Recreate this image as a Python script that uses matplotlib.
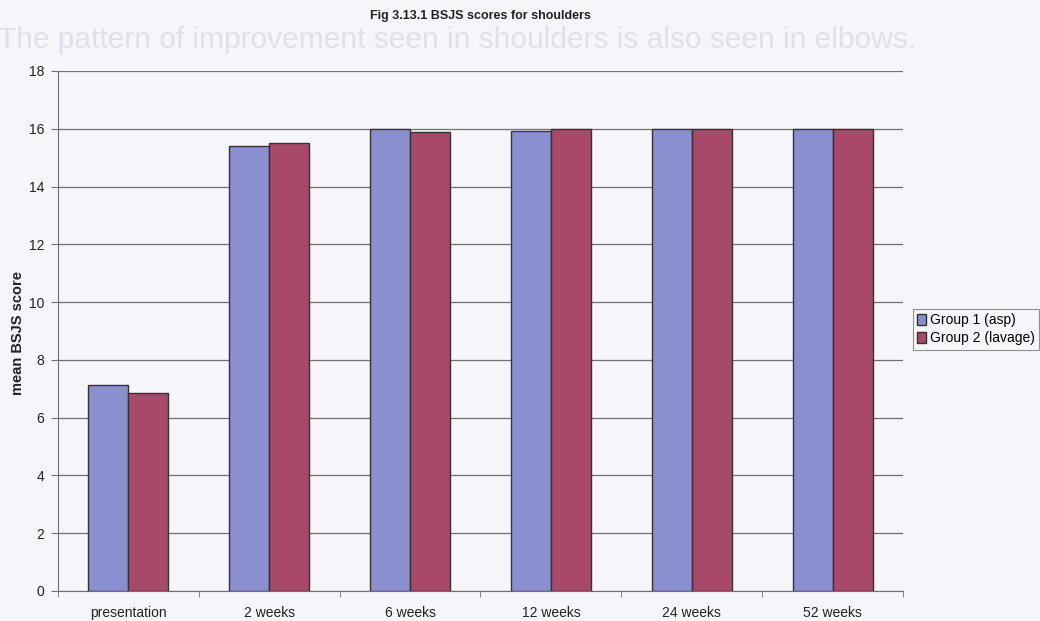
import numpy as np
import matplotlib.pyplot as plt

plt.rcParams['font.family'] = ['Liberation Sans', 'DejaVu Sans']

# data
categories = ['presentation', '2 weeks', '6 weeks', '12 weeks', '24 weeks', '52 weeks']
group1 = [7.13, 15.4, 16.0, 15.92, 16.0, 16.0]   # Group 1 (asp)
group2 = [6.85, 15.5, 15.88, 16.0, 16.0, 16.0]   # Group 2 (lavage)
yticks = [0, 2, 4, 6, 8, 10, 12, 14, 16, 18]

bg = '#f5f5fa'
fig = plt.figure(figsize=(10.4, 6.21), dpi=100, facecolor=bg)
ax = fig.add_axes([58 / 1040, 30 / 621, 845 / 1040, 520 / 621], facecolor=bg)

# faint show-through text from the other side of the page
fig.text(-2 / 1040, 1 - 40 / 621, 'The pattern of improvement seen in shoulders is also seen in elbows.',
         fontsize=21.5, color='#e0e0ea', va='center', ha='left', zorder=0)

x = np.arange(len(categories))
w = 0.284
ax.bar(x - w / 2, group1, w, color='#8a8fcf', edgecolor='#333333', linewidth=1.0,
       label='Group 1 (asp)', zorder=3)
ax.bar(x + w / 2, group2, w, color='#a8496c', edgecolor='#333333', linewidth=1.0,
       label='Group 2 (lavage)', zorder=3)

ax.set_xlim(-0.5, len(categories) - 0.5)
ax.set_ylim(0, 18)
ax.set_yticks(yticks)
ax.yaxis.grid(True, color='#707070', linewidth=0.9, zorder=0)
ax.set_xticks(x)
ax.set_xticklabels(categories, fontsize=10, color='#222222')
ax.set_xticks(np.arange(len(categories) + 1) - 0.5, minor=True)
ax.tick_params(axis='x', which='major', length=0, pad=11)
ax.tick_params(axis='x', which='minor', length=4, color='#707070', direction='out')
ax.tick_params(axis='y', labelsize=10, length=5, color='#707070', labelcolor='#222222', pad=5)

for s in ['top', 'right']:
    ax.spines[s].set_visible(False)
for s in ['left', 'bottom']:
    ax.spines[s].set_color('#707070')

fig.text(18 / 1040, 1 - 333 / 621, 'mean BSJS score', fontsize=10.5, fontweight='bold',
         color='#222222', rotation=90, ha='center', va='center')
fig.text(480 / 1040, 1 - 16 / 621, 'Fig 3.13.1 BSJS scores for shoulders', fontsize=9,
         fontweight='bold', color='#222222', ha='center', va='center')

leg = fig.legend(loc='upper left', bbox_to_anchor=(913 / 1040, 1 - 309 / 621),
                 fontsize=10, frameon=True, fancybox=False, handlelength=0.6,
                 handleheight=0.8, handletextpad=0.3, borderpad=0.3, labelspacing=0.3,
                 borderaxespad=0)
leg.get_frame().set_edgecolor('#777777')
leg.get_frame().set_facecolor(bg)
leg.get_frame().set_linewidth(0.8)

fig.savefig('out.png', dpi=100, facecolor=bg)
